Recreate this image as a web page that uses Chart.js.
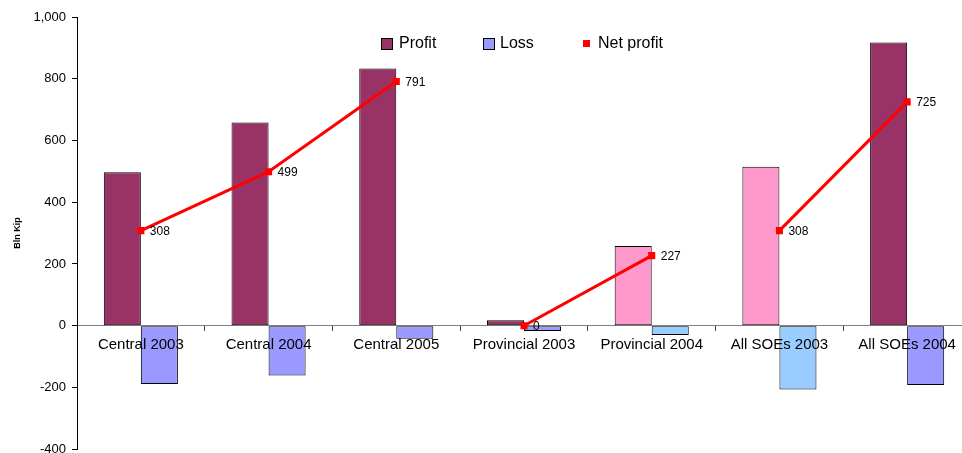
<!DOCTYPE html>
<html>
<head>
<meta charset="utf-8">
<script src="https://cdn.jsdelivr.net/npm/chart.js@4/dist/chart.umd.min.js"></script>
<style>
  html, body { margin: 0; padding: 0; background: #fff; overflow: hidden; }
  #wrap { position: relative; width: 976px; height: 463px; }
  #legend { position: absolute; top: 0; left: 0; font-family: Arial, "Liberation Sans", sans-serif; font-size: 16px; color: #000; }
  .item { position: absolute; top: 34px; white-space: nowrap; line-height: 18px; }
  .box { position: absolute; box-sizing: border-box; }
</style>
</head>
<body>
<div id="wrap">
  <canvas id="chart" width="976" height="463"></canvas>
  <div id="legend">
    <div class="box" style="left:381px;top:38px;width:12px;height:12px;background:#993366;border:1px solid #000;"></div>
    <div class="item" style="left:399px;">Profit</div>
    <div class="box" style="left:483px;top:38px;width:12px;height:12px;background:#9999FF;border:1px solid #000;"></div>
    <div class="item" style="left:500px;">Loss</div>
    <div class="box" style="left:583px;top:40px;width:7px;height:7px;background:#FF0000;"></div>
    <div class="item" style="left:598px;">Net profit</div>
  </div>
</div>
<script>
document.addEventListener('DOMContentLoaded', () => {
    // Values (Bln Kip)
    const categories = ['Central 2003', 'Central 2004', 'Central 2005', 'Provincial 2003', 'Provincial 2004', 'All SOEs 2003', 'All SOEs 2004'];
    const profit = [497, 658, 833, 18, 258, 515, 917];
    const loss = [-189, -161, -42, -17, -30, -207, -192];
    const netProfit = [308, 499, 791, 0, 227, 308, 725];
    const yMin = -400;
    const yMax = 1000;
    const yStep = 200;

    // Colours
    const profitColors = ['#993366', '#993366', '#993366', '#993366', '#FF99CC', '#FF99CC', '#993366'];
    const lossColors = ['#9999FF', '#9999FF', '#9999FF', '#9999FF', '#99CCFF', '#99CCFF', '#9999FF'];
    const breaksAfter = [2, 4]; // net profit line is not joined across these groups

    const font = 'Arial, "Liberation Sans", sans-serif';

    // Value labels next to the net profit points
    const netLabels = {
        id: 'netLabels',
        afterDatasetsDraw(chart) {
            const meta = chart.getDatasetMeta(2);
            const ctx = chart.ctx;
            ctx.save();
            ctx.font = '12px ' + font;
            ctx.fillStyle = '#000';
            ctx.textBaseline = 'middle';
            ctx.textAlign = 'left';
            meta.data.forEach((pt, i) => {
                ctx.fillText(String(netProfit[i]), pt.x + 9, pt.y + 1);
            });
            ctx.restore();
        }
    };

    const ctx = document.getElementById('chart').getContext('2d');
    new Chart(ctx, {
        type: 'bar',
        data: {
            labels: categories,
            datasets: [
                {
                    label: 'Profit',
                    data: profit,
                    backgroundColor: profitColors,
                    borderColor: '#000',
                    borderWidth: 1,
                    borderSkipped: false,
                    order: 2
                },
                {
                    label: 'Loss',
                    data: loss,
                    backgroundColor: lossColors,
                    borderColor: '#000',
                    borderWidth: 1,
                    borderSkipped: false,
                    order: 2
                },
                {
                    type: 'line',
                    label: 'Net profit',
                    data: netProfit,
                    borderColor: '#FF0000',
                    backgroundColor: '#FF0000',
                    borderWidth: 3,
                    pointStyle: 'rect',
                    pointRadius: 5,
                    pointBorderWidth: 0,
                    tension: 0,
                    order: 0,
                    segment: {
                        borderColor: c => breaksAfter.includes(c.p0DataIndex) ? 'rgba(0,0,0,0)' : '#FF0000'
                    }
                }
            ]
        },
        options: {
            responsive: false,
            animation: false,
            layout: { padding: { top: 17, bottom: 5, right: 3, left: 0 } },
            datasets: {
                bar: { categoryPercentage: 0.58, barPercentage: 1.0 }
            },
            plugins: {
                legend: { display: false },
                tooltip: { enabled: false }
            },
            scales: {
                x: {
                    position: { y: 0 },
                    offset: true,
                    grid: {
                        offset: true,
                        drawOnChartArea: false,
                        tickLength: 5,
                        color: '#444'
                    },
                    border: { color: '#808080', width: 1 },
                    ticks: {
                        z: 1,
                        color: '#000',
                        padding: 5,
                        maxRotation: 0,
                        autoSkip: false,
                        font: { family: font, size: 15 }
                    }
                },
                y: {
                    min: yMin,
                    max: yMax,
                    afterFit: s => { s.width = 77; },
                    grid: {
                        drawOnChartArea: false,
                        tickLength: 5,
                        color: '#000'
                    },
                    border: { color: '#000', width: 1 },
                    ticks: {
                        stepSize: yStep,
                        color: '#000',
                        padding: 6,
                        font: { family: font, size: 13 },
                        callback: v => v.toLocaleString('en-US')
                    },
                    title: {
                        display: true,
                        text: 'Bln Kip',
                        color: '#000',
                        padding: { top: 12, bottom: 0 },
                        font: { family: font, size: 9, weight: 'bold' }
                    }
                }
            }
        },
        plugins: [netLabels]
    });
});
</script>
</body>
</html>
